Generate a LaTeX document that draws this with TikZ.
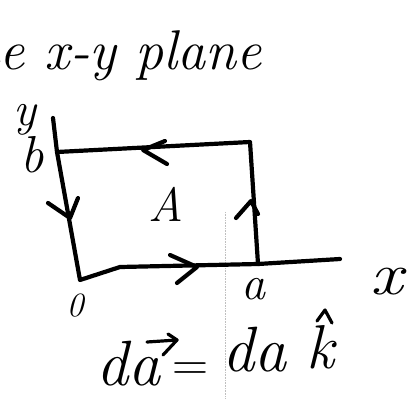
\documentclass[tikz,border=0pt]{standalone}
\begin{document}
\begin{tikzpicture}[x=1pt,y=-1pt,
  pen/.style={line width=4.2pt,line cap=round,line join=round},
  thinpen/.style={line width=3.2pt,line cap=round,line join=round},
  lbl/.style={inner sep=0pt,font=\fontsize{#1}{#1}\selectfont\itshape},
  scanmark/.style={black!25,densely dotted,line width=0.6pt}]
\useasboundingbox (0,0) rectangle (411,398);
% faint scan line
\coordinate (s1) at (225,212);
\coordinate (s2) at (225,398);
\draw[scanmark] (s1) -- (s2);
% corner points
\coordinate (Yt) at (53,118);
\coordinate (B) at (57,152);
\coordinate (O) at (80,280);
\coordinate (C) at (250,142);
\coordinate (D) at (258,264);
\coordinate (Xe) at (340,259);
\coordinate (Bm) at (120,267);
% axes and rectangle
\draw[pen] (Yt) -- (B) -- (O) -- (Bm) -- (D) -- (Xe);
\draw[pen] (B) -- (C) -- (D);
% direction chevrons
\draw[pen] (165,141) -- (143,150) -- (167,164);
\draw[pen] (48,203) -- (70,218) -- (78,198);
\draw[pen] (236,218) -- (251,201) -- (258,214);
\draw[pen] (170,255) -- (197,267) -- (177,283);
% labels
\node[lbl=56,anchor=base east] (title) at (262,70) {the x-y plane};
\node[lbl=48] (ylab) at (25,120) {y};
\node[lbl=52] (blab) at (32,155) {b};
\node[lbl=48] (Alab) at (166,204) {A};
\node[lbl=34] (olab) at (75,306) {0};
\node[lbl=48] (alab) at (253,289) {a};
\node[lbl=60,xscale=1.2] (xlab) at (387,282) {x};
% equation
\node[lbl=64,anchor=base] (da1) at (128,385) {da};
\node[inner sep=0pt,font=\fontsize{50}{50}\selectfont] (eq) at (190,372) {=};
\node[lbl=64,anchor=base] (da2) at (254,371) {da};
\node[lbl=62,anchor=base] (k) at (320,368) {k};
\draw[thinpen] (147,342) -- (177,340);
\draw[thinpen] (168,334) -- (177,340) -- (163,355);
\draw[thinpen] (317,321) -- (325,310) -- (332,323);
\end{tikzpicture}
\end{document}
